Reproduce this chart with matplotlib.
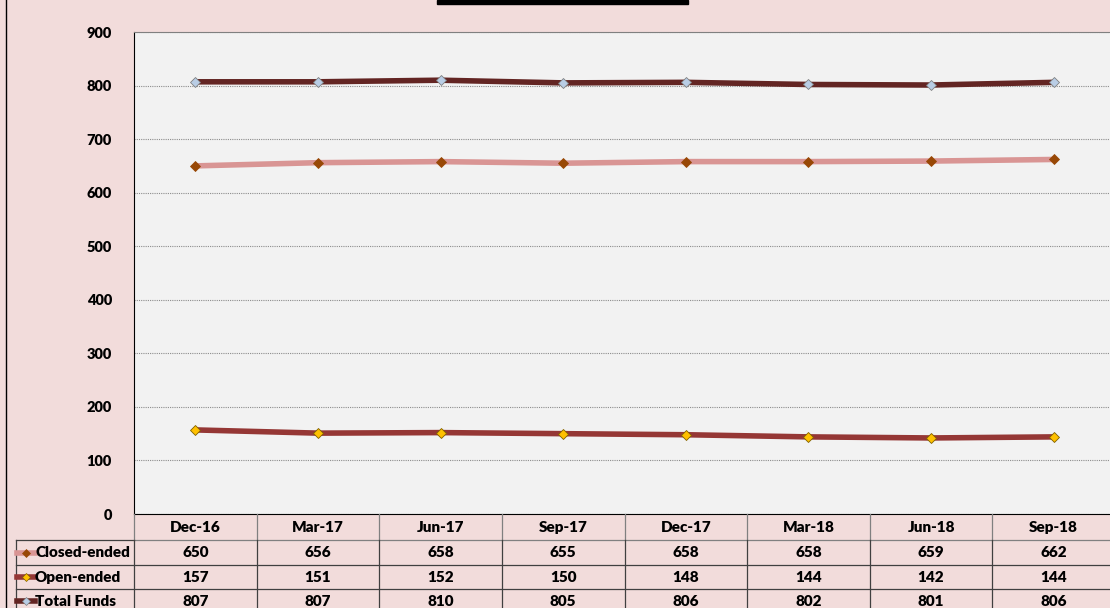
import matplotlib
matplotlib.use("Agg")
import matplotlib.pyplot as plt
from matplotlib.lines import Line2D
from matplotlib.patches import Rectangle

# data
quarters = ["Dec-16", "Mar-17", "Jun-17", "Sep-17", "Dec-17", "Mar-18", "Jun-18", "Sep-18"]
closed_ended = [650, 656, 658, 655, 658, 658, 659, 662]
open_ended = [157, 151, 152, 150, 148, 144, 142, 144]
total_funds = [807, 807, 810, 805, 806, 802, 801, 806]

series = [
    ("Closed-ended", closed_ended, "#D99594", "#984806", "#984806"),
    ("Open-ended", open_ended, "#953735", "#FFC000", "#7F6000"),
    ("Total Funds", total_funds, "#632523", "#B9CDE5", "#7F7F7F"),
]

W, H = 1110, 608
plt.rcParams["font.family"] = ["Lato", "DejaVu Sans"]

fig = plt.figure(figsize=(W / 100, H / 100), dpi=100)
fig.patch.set_facecolor("#F2DCDB")

# plot area in pixels
left, right, top, bottom = 134, 1115, 32, 514
ax = fig.add_axes([left / W, 1 - bottom / H, (right - left) / W, (bottom - top) / H])
ax.set_facecolor("#F2F2F2")

x = list(range(len(quarters)))
for name, vals, lc, mfc, mec in series:
    ax.plot(x, vals, color=lc, lw=4, marker="D", ms=5, mfc=mfc, mec=mec, mew=0.6,
            solid_capstyle="round", zorder=3)

ax.set_xlim(-0.5, len(quarters) - 0.5)
ax.set_ylim(0, 900)
ax.set_yticks(range(0, 901, 100))
ax.set_xticks([])
ax.tick_params(axis="y", length=0, pad=16)
for lab in ax.get_yticklabels():
    lab.set_fontweight("heavy")
    lab.set_fontsize(10.5)
ax.yaxis.grid(True, color="#8C8C8C", ls=(0, (1, 1)), lw=0.8)
ax.set_axisbelow(True)
ax.spines["right"].set_visible(False)
ax.spines["top"].set_color("#808080")
ax.spines["left"].set_color("#000000")
ax.spines["bottom"].set_color("#000000")
ax.spines["left"].set_linewidth(0.8)
ax.spines["top"].set_linewidth(0.8)


# data table under the plot, in figure pixels
def fx(px):
    return px / W


def fy(py):
    return 1 - py / H


col_w = (right - left) / len(quarters)
row_y = [514, 540, 565, 589, 613]
lab_left = 16

line_kw = dict(transform=fig.transFigure, color="#404040", lw=0.9)
# horizontal lines
fig.add_artist(Line2D([fx(left), fx(W)], [fy(row_y[1])] * 2, color="#808080", lw=0.9,
                      transform=fig.transFigure))
for yy in row_y[2:4]:
    fig.add_artist(Line2D([fx(lab_left), fx(W)], [fy(yy)] * 2, **line_kw))
fig.add_artist(Line2D([fx(lab_left), fx(left)], [fy(row_y[1])] * 2, **line_kw))
# vertical lines
for i in range(len(quarters) + 1):
    xx = left + i * col_w
    fig.add_artist(Line2D([fx(xx)] * 2, [fy(row_y[0]), fy(row_y[1])], color="#808080",
                          lw=0.9, transform=fig.transFigure))
    fig.add_artist(Line2D([fx(xx)] * 2, [fy(row_y[1]), fy(H)], **line_kw))
fig.add_artist(Line2D([fx(lab_left)] * 2, [fy(row_y[1]), fy(H)], **line_kw))

txt_kw = dict(fontsize=11, fontweight="heavy", ha="center", va="center")
for i, q in enumerate(quarters):
    cx = left + (i + 0.5) * col_w
    fig.text(fx(cx), fy((row_y[0] + row_y[1]) / 2), q, **txt_kw)
    for r, (name, vals, lc, mfc, mec) in enumerate(series):
        cy = (row_y[r + 1] + row_y[r + 2]) / 2
        fig.text(fx(cx), fy(cy), str(vals[i]), **txt_kw)

# row labels with legend keys
for r, (name, vals, lc, mfc, mec) in enumerate(series):
    cy = (row_y[r + 1] + row_y[r + 2]) / 2
    fig.add_artist(Line2D([fx(17), fx(35)], [fy(cy)] * 2, color=lc, lw=4,
                          transform=fig.transFigure))
    fig.add_artist(Line2D([fx(26)], [fy(cy)], marker="D", ms=4, mfc=mfc, mec=mec, mew=0.5,
                          transform=fig.transFigure))
    fig.text(fx(35), fy(cy), name, fontsize=11, fontweight="heavy", ha="left", va="center")

# outer frame bits: left border and title box edge
fig.add_artist(Line2D([fx(6)] * 2, [0, 1], color="#000000", lw=1.0, transform=fig.transFigure))
fig.add_artist(Rectangle((fx(437), fy(3.5)), fx(688) - fx(437), fy(0) - fy(3.5),
                         transform=fig.transFigure, color="#000000"))

fig.savefig("out.png", dpi=100, facecolor=fig.get_facecolor())
